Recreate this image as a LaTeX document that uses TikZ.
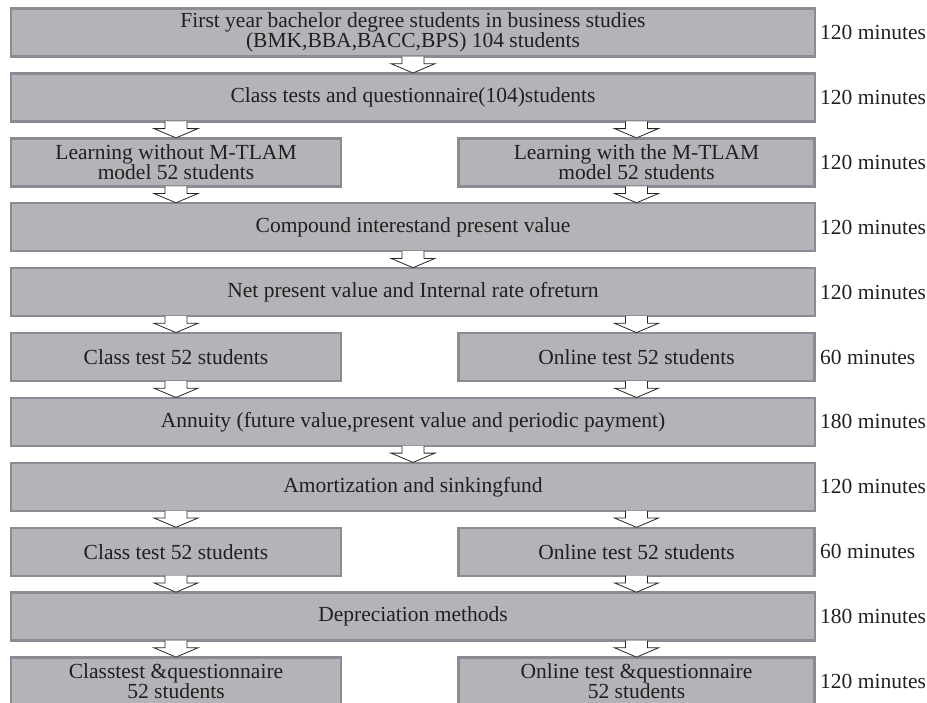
\documentclass[tikz,border=0pt]{standalone}
\usepackage{fontspec}
\setmainfont{Liberation Serif}
\definecolor{boxfill}{HTML}{B2B4B7}
\definecolor{boxline}{HTML}{8D8A93}
\definecolor{txt}{HTML}{231F20}
\begin{document}
\begin{tikzpicture}[x=1pt,y=-1pt,
  box/.style={draw=boxline,fill=boxfill,line width=2.4pt,minimum height=48pt,inner sep=0pt,align=center,text=txt,font=\fontsize{21.5}{20}\selectfont},
  wide/.style={box,minimum width=804pt},
  lbox/.style={box,minimum width=330pt},
  rbox/.style={box,minimum width=356pt},
  tlabel/.style={anchor=west,inner sep=0pt,text=txt,font=\fontsize{21.5}{20}\selectfont},
  blockarrow/.style={draw=black!85,fill=white,line width=0.8pt,line join=miter}
]
\useasboundingbox (0,0) rectangle (927,702);
% rows: centre y = top + 24.25, pitch 64.9
\node[wide] (r1) at (413,32.5) {First year bachelor degree students in business studies\\(BMK,BBA,BACC,BPS) 104 students};
\node[wide] (r2) at (413,97.4) {Class tests and questionnaire(104)students};
\node[lbox] (r3l) at (176,162.3) {Learning without M-TLAM\\model 52 students};
\node[rbox] (r3r) at (636.5,162.3) {Learning with the M-TLAM\\model 52 students};
\node[wide] (r4) at (413,227.2) {Compound interestand present value};
\node[wide] (r5) at (413,292.1) {Net present value and Internal rate ofreturn};
\node[lbox] (r6l) at (176,357.0) {Class test 52 students};
\node[rbox] (r6r) at (636.5,357.0) {Online test 52 students};
\node[wide] (r7) at (413,421.9) {Annuity (future value,present value and periodic payment)};
\node[wide] (r8) at (413,486.8) {Amortization and sinkingfund};
\node[lbox] (r9l) at (176,551.7) {Class test 52 students};
\node[rbox] (r9r) at (636.5,551.7) {Online test 52 students};
\node[wide] (r10) at (413,616.6) {Depreciation methods};
\node[lbox] (r11l) at (176,681.5) {Classtest \&questionnaire\\52 students};
\node[rbox] (r11r) at (636.5,681.5) {Online test \&questionnaire\\52 students};
% time labels
\node[tlabel] (t1) at (820,0 |- r1) {120 minutes};
\node[tlabel] (t2) at (820,0 |- r2) {120 minutes};
\node[tlabel] (t3) at (820,0 |- r3r) {120 minutes};
\node[tlabel] (t4) at (820,0 |- r4) {120 minutes};
\node[tlabel] (t5) at (820,0 |- r5) {120 minutes};
\node[tlabel] (t6) at (820,0 |- r6r) {60 minutes};
\node[tlabel] (t7) at (820,0 |- r7) {180 minutes};
\node[tlabel] (t8) at (820,0 |- r8) {120 minutes};
\node[tlabel] (t9) at (820,0 |- r9r) {60 minutes};
\node[tlabel] (t10) at (820,0 |- r10) {180 minutes};
\node[tlabel] (t11) at (820,0 |- r11r) {120 minutes};
% block arrows (yshift is in page points: negative = downwards)
\newcommand{\barrow}[3]{% x, from-node, to-node
  \coordinate (ba-top) at (#1,0 |- #2.south);
  \coordinate (ba-tip) at (#1,0 |- #3.north);
  \path[blockarrow] ([xshift=-11pt,yshift=1.2pt]ba-top) -- ([xshift=-11pt,yshift=-6pt]ba-top)
    -- ([xshift=-22pt,yshift=-6pt]ba-top) -- ([yshift=-0.8pt]ba-tip)
    -- ([xshift=22pt,yshift=-6pt]ba-top) -- ([xshift=11pt,yshift=-6pt]ba-top)
    -- ([xshift=11pt,yshift=1.2pt]ba-top);}
\barrow{413}{r1}{r2}
\barrow{176}{r2}{r3l}
\barrow{636.5}{r2}{r3r}
\barrow{176}{r3l}{r4}
\barrow{636.5}{r3r}{r4}
\barrow{413}{r4}{r5}
\barrow{176}{r5}{r6l}
\barrow{636.5}{r5}{r6r}
\barrow{176}{r6l}{r7}
\barrow{636.5}{r6r}{r7}
\barrow{413}{r7}{r8}
\barrow{176}{r8}{r9l}
\barrow{636.5}{r8}{r9r}
\barrow{176}{r9l}{r10}
\barrow{636.5}{r9r}{r10}
\barrow{176}{r10}{r11l}
\barrow{636.5}{r10}{r11r}
\end{tikzpicture}
\end{document}
